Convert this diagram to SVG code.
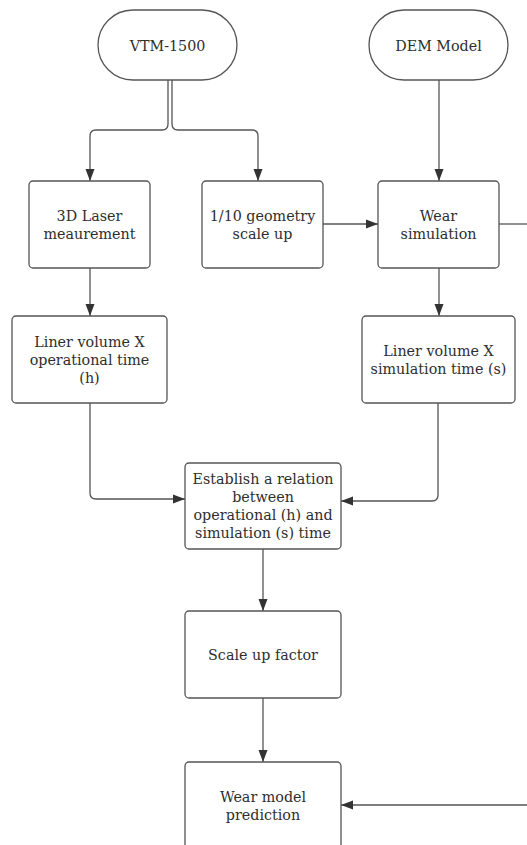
<svg xmlns="http://www.w3.org/2000/svg" width="527" height="845" viewBox="0 0 527 845">
<style>
.box{fill:#fff;stroke:#555;stroke-width:1.3}
.t{font-family:"DejaVu Serif","Liberation Serif",serif;font-size:14.3px;fill:#2e2e2e;text-anchor:middle}
.c{fill:none;stroke:#555;stroke-width:1.3}
</style>
<defs>
<marker id="ah" viewBox="0 0 12 10" refX="12" refY="5" markerWidth="12" markerHeight="10" markerUnits="userSpaceOnUse" orient="auto">
<path d="M0,0.5 L12,5 L0,9.5 z" fill="#333"/>
</marker>
</defs>
<rect width="527" height="845" fill="#fff"/>
<g id="connectors">
<path class="c" d="M168,80 V124 Q168,130 162,130 H96 Q90,130 90,136 V181" marker-end="url(#ah)"/>
<path class="c" d="M172,80 V124 Q172,130 178,130 H252 Q258,130 258,136 V181" marker-end="url(#ah)"/>
<path class="c" d="M439,80 V181" marker-end="url(#ah)"/>
<path class="c" d="M323,224 H378" marker-end="url(#ah)"/>
<path class="c" d="M499,224 H527"/>
<path class="c" d="M90,268 V316" marker-end="url(#ah)"/>
<path class="c" d="M439,268 V316" marker-end="url(#ah)"/>
<path class="c" d="M90,403 V493 Q90,499 96,499 H185" marker-end="url(#ah)"/>
<path class="c" d="M438,403 V495 Q438,501 432,501 H341" marker-end="url(#ah)"/>
<path class="c" d="M263,549 V611" marker-end="url(#ah)"/>
<path class="c" d="M263,698 V762" marker-end="url(#ah)"/>
<path class="c" d="M527,805 H341" marker-end="url(#ah)"/>
</g>
<g id="vtm">
<rect class="box" x="98" y="10" width="139" height="70" rx="35"/>
<text class="t" x="167.5" y="51">VTM-1500</text>
</g>
<g id="dem">
<rect class="box" x="369" y="10" width="139" height="70" rx="35"/>
<text class="t" x="438.5" y="51">DEM Model</text>
</g>
<g id="laser">
<rect class="box" x="29" y="181" width="121" height="87" rx="4"/>
<text class="t" x="89.5" y="221">3D Laser</text>
<text class="t" x="89.5" y="239">meaurement</text>
</g>
<g id="geometry">
<rect class="box" x="202" y="181" width="121" height="87" rx="4"/>
<text class="t" x="262.5" y="221">1/10 geometry</text>
<text class="t" x="262.5" y="239">scale up</text>
</g>
<g id="wearsim">
<rect class="box" x="378" y="181" width="121" height="87" rx="4"/>
<text class="t" x="438.5" y="221">Wear</text>
<text class="t" x="438.5" y="239">simulation</text>
</g>
<g id="linerop">
<rect class="box" x="12" y="316" width="155" height="87" rx="4"/>
<text class="t" x="89.5" y="347">Liner volume X</text>
<text class="t" x="89.5" y="365">operational time</text>
<text class="t" x="89.5" y="383">(h)</text>
</g>
<g id="linersim">
<rect class="box" x="362" y="316" width="153" height="87" rx="4"/>
<text class="t" x="438.5" y="356">Liner volume X</text>
<text class="t" x="438.5" y="374">simulation time (s)</text>
</g>
<g id="establish">
<rect class="box" x="185" y="463" width="156" height="86" rx="4"/>
<text class="t" x="263" y="484">Establish a relation</text>
<text class="t" x="263" y="502">between</text>
<text class="t" x="263" y="520">operational (h) and</text>
<text class="t" x="263" y="538">simulation (s) time</text>
</g>
<g id="scaleup">
<rect class="box" x="185" y="611" width="156" height="87" rx="4"/>
<text class="t" x="263" y="660">Scale up factor</text>
</g>
<g id="prediction">
<rect class="box" x="185" y="762" width="156" height="87" rx="4"/>
<text class="t" x="263" y="802">Wear model</text>
<text class="t" x="263" y="820">prediction</text>
</g>
</svg>
